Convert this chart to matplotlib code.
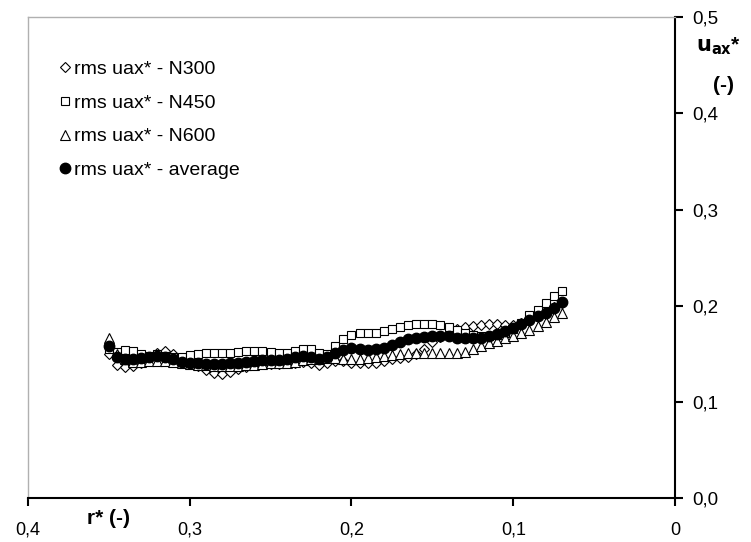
import matplotlib.pyplot as plt
from matplotlib.ticker import FuncFormatter

plt.rcParams['font.family'] = ['Liberation Sans', 'DejaVu Sans']

# radial position r* (-)
r = [0.350, 0.345, 0.340, 0.335, 0.330, 0.325, 0.320, 0.315, 0.310, 0.305,
     0.300, 0.295, 0.290, 0.285, 0.280, 0.275, 0.270, 0.265, 0.260, 0.255,
     0.250, 0.245, 0.240, 0.235, 0.230, 0.225, 0.220, 0.215, 0.210, 0.205,
     0.200, 0.195, 0.190, 0.185, 0.180, 0.175, 0.170, 0.165, 0.160, 0.155,
     0.150, 0.145, 0.140, 0.135, 0.130, 0.125, 0.120, 0.115, 0.110, 0.105,
     0.100, 0.095, 0.090, 0.085, 0.080, 0.075, 0.070]

rms_n300 = [0.150, 0.138, 0.136, 0.137, 0.141, 0.147, 0.151, 0.153, 0.150, 0.145,
            0.141, 0.137, 0.133, 0.130, 0.129, 0.131, 0.134, 0.136, 0.138, 0.139,
            0.139, 0.139, 0.140, 0.141, 0.142, 0.141, 0.138, 0.140, 0.143, 0.143,
            0.141, 0.140, 0.140, 0.141, 0.143, 0.145, 0.146, 0.147, 0.150, 0.155,
            0.162, 0.168, 0.172, 0.176, 0.178, 0.179, 0.180, 0.181, 0.181, 0.180,
            0.180, 0.182, 0.186, 0.190, 0.195, 0.199, 0.203]

rms_n450 = [0.155, 0.152, 0.154, 0.153, 0.150, 0.148, 0.150, 0.148, 0.147, 0.147,
            0.149, 0.150, 0.151, 0.151, 0.151, 0.151, 0.152, 0.153, 0.153, 0.153,
            0.152, 0.151, 0.151, 0.153, 0.155, 0.155, 0.151, 0.150, 0.158, 0.165,
            0.170, 0.172, 0.172, 0.172, 0.174, 0.176, 0.178, 0.180, 0.181, 0.181,
            0.181, 0.180, 0.178, 0.175, 0.172, 0.170, 0.169, 0.169, 0.170, 0.172,
            0.176, 0.182, 0.190, 0.196, 0.203, 0.210, 0.215]

rms_n600 = [0.167, 0.150, 0.145, 0.142, 0.142, 0.143, 0.143, 0.143, 0.142, 0.140,
            0.139, 0.138, 0.138, 0.137, 0.137, 0.137, 0.137, 0.138, 0.138, 0.139,
            0.140, 0.140, 0.141, 0.142, 0.144, 0.145, 0.145, 0.146, 0.146, 0.145,
            0.145, 0.145, 0.146, 0.147, 0.148, 0.149, 0.150, 0.151, 0.151, 0.151,
            0.151, 0.151, 0.151, 0.151, 0.152, 0.155, 0.158, 0.161, 0.163, 0.166,
            0.169, 0.172, 0.175, 0.179, 0.183, 0.188, 0.193]

rms_avg = [0.158, 0.147, 0.145, 0.145, 0.146, 0.147, 0.148, 0.147, 0.145, 0.142,
           0.141, 0.140, 0.139, 0.139, 0.139, 0.140, 0.141, 0.142, 0.143, 0.144,
           0.144, 0.144, 0.145, 0.147, 0.148, 0.147, 0.145, 0.147, 0.151, 0.154,
           0.156, 0.155, 0.154, 0.155, 0.156, 0.159, 0.162, 0.165, 0.167, 0.168,
           0.169, 0.169, 0.169, 0.167, 0.166, 0.166, 0.167, 0.169, 0.171, 0.174,
           0.177, 0.181, 0.185, 0.189, 0.193, 0.198, 0.204]

x_ticks = [0.4, 0.3, 0.2, 0.1, 0.0]
x_ticklabels = ['0,4', '0,3', '0,2', '0,1', '0']
y_ticks = [0.0, 0.1, 0.2, 0.3, 0.4, 0.5]

fig = plt.figure(figsize=(7.51, 5.42), dpi=100)
ax = fig.add_axes([0.037, 0.081, 0.862, 0.887])

ax.plot(r, rms_n300, ls='none', marker='D', ms=5.2, mfc='white', mec='black', mew=0.8,
        label='rms uax* - N300')
ax.plot(r, rms_n450, ls='none', marker='s', ms=5.8, mfc='white', mec='black', mew=0.8,
        label='rms uax* - N450')
ax.plot(r, rms_n600, ls='none', marker='^', ms=6.5, mfc='white', mec='black', mew=0.8,
        label='rms uax* - N600')
ax.plot(r, rms_avg, ls='none', marker='o', ms=7.5, mfc='black', mec='black',
        label='rms uax* - average')

ax.set_xlim(0.4, 0.0)
ax.set_ylim(0.0, 0.5)

ax.set_xticks(x_ticks)
ax.set_xticklabels(x_ticklabels)
ax.set_yticks(y_ticks)
ax.yaxis.set_major_formatter(FuncFormatter(lambda v, p: f"{v:.1f}".replace('.', ',')))
ax.yaxis.tick_right()
ax.tick_params(axis='x', direction='out', length=6, width=1.5, pad=11, labelsize=13)
ax.tick_params(axis='y', direction='out', length=6, width=1.5, pad=6, labelsize=13.5)

for side in ('left', 'top'):
    ax.spines[side].set_color('#b0b0b0')
    ax.spines[side].set_linewidth(1.0)
for side in ('right', 'bottom'):
    ax.spines[side].set_color('black')
    ax.spines[side].set_linewidth(1.5)

ax.text(0.125, -0.042, 'r* (-)', transform=ax.transAxes,
        fontsize=15, fontweight='bold', ha='center', va='center')
fig.text(0.957, 0.915, r'$\mathbf{u_{ax}}$*', fontsize=15, fontweight='bold',
         ha='center', va='center')
fig.text(0.963, 0.842, '(-)', fontsize=15, fontweight='bold', ha='center', va='center')

ax.legend(loc='upper left', bbox_to_anchor=(0.046, 0.91), frameon=False, fontsize=14,
          borderpad=0, borderaxespad=0, handletextpad=0.05, handlelength=0.8,
          labelspacing=0.82)

plt.savefig('out.png', dpi=100)
